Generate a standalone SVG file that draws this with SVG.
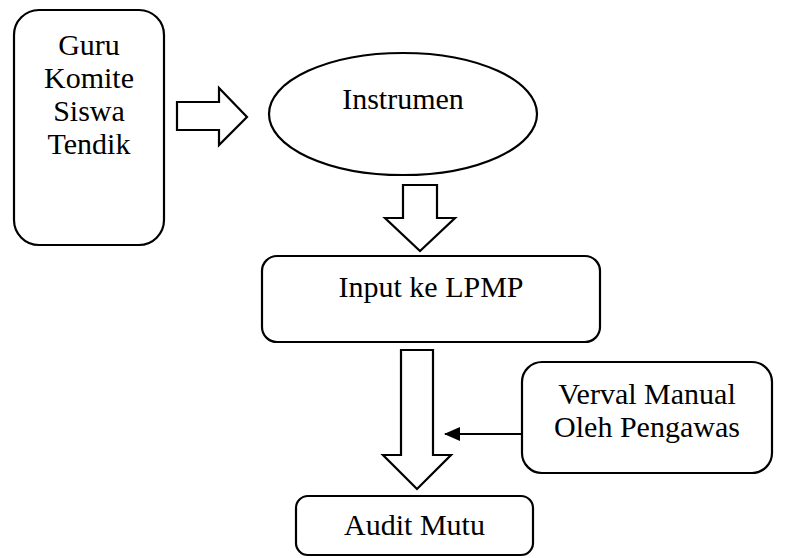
<svg xmlns="http://www.w3.org/2000/svg" width="797" height="558" viewBox="0 0 797 558">
<defs>
<style>
.box{fill:#fff;stroke:#000;stroke-width:2.2}
.blk{fill:#fff;stroke:#000;stroke-width:2.2;stroke-linejoin:miter}
.t{font-family:"Liberation Serif","Times New Roman",serif;font-size:30px;fill:#000;text-anchor:middle}
</style>
<marker id="ah" markerWidth="16" markerHeight="14" refX="15" refY="7" orient="auto" markerUnits="userSpaceOnUse">
<path d="M0,0 L16,7 L0,14 Z" fill="#000"/>
</marker>
</defs>
<rect width="797" height="558" fill="#fff"/>
<g id="node-actors">
<rect class="box" x="14" y="10" width="150" height="235" rx="25"/>
<text class="t" x="89" y="55">Guru</text>
<text class="t" x="89" y="88">Komite</text>
<text class="t" x="89" y="121">Siswa</text>
<text class="t" x="89" y="154">Tendik</text>
</g>
<g id="node-instrumen">
<ellipse class="box" cx="403" cy="114" rx="134" ry="61"/>
<text class="t" x="403" y="109">Instrumen</text>
</g>
<g id="node-input">
<rect class="box" x="262" y="256" width="338" height="86" rx="15"/>
<text class="t" x="431" y="297">Input ke LPMP</text>
</g>
<g id="node-verval">
<rect class="box" x="522" y="362" width="250" height="111" rx="20"/>
<text class="t" x="647" y="404">Verval Manual</text>
<text class="t" x="647" y="437">Oleh Pengawas</text>
</g>
<g id="node-audit">
<rect class="box" x="296" y="496" width="237" height="59" rx="12"/>
<text class="t" x="414.5" y="535">Audit Mutu</text>
</g>
<g id="connectors">
<path class="blk" d="M177,102 L219,102 L219,88 L247,117 L219,145 L219,130 L177,130 Z"/>
<path class="blk" d="M403,185 L437,185 L437,218 L455,218 L420,251 L385,218 L403,218 Z"/>
<path class="blk" d="M401,350 L433,350 L433,455 L451,455 L417,489 L383,455 L401,455 Z"/>
<line x1="522" y1="434" x2="445" y2="434" stroke="#000" stroke-width="2" marker-end="url(#ah)"/>
</g>
</svg>
